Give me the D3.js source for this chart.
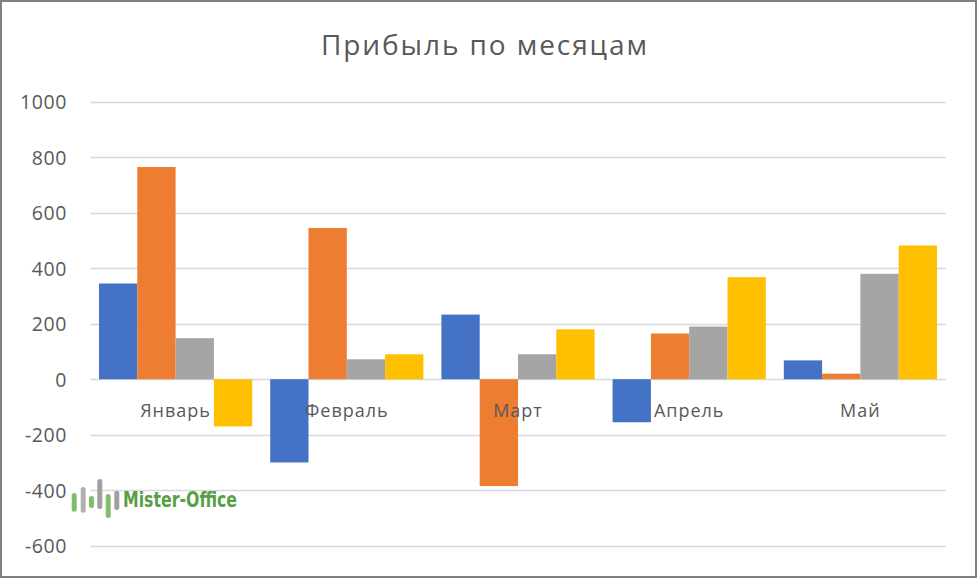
<!DOCTYPE html>
<html><head><meta charset="utf-8">
<script src="https://cdn.jsdelivr.net/npm/d3@7"></script>
<style>html,body{margin:0;padding:0;background:#fff;}svg{display:block;}</style>
</head><body>
<script>
const categories = ["Январь","Февраль","Март","Апрель","Май"];
const seriesNames = ["Ряд1","Ряд2","Ряд3","Ряд4"];
const series1 = [345, -300, 233, -155, 68];
const series2 = [765, 545, -385, 165, 20];
const series3 = [148, 72, 90, 190, 380];
const series4 = [-170, 90, 180, 368, 482];
const yTicks = [-600, -400, -200, 0, 200, 400, 600, 800, 1000];
const colors = ["#4472C4", "#ED7D31", "#A5A5A5", "#FFC000"];
const title = "Прибыль по месяцам";

const W = 977, H = 578;
const font = "'Open Sans', 'Segoe UI', sans-serif";
const svg = d3.select("body").append("svg").attr("width", W).attr("height", H);

svg.append("rect").attr("x",1).attr("y",1).attr("width",W-2).attr("height",H-2)
  .attr("fill","#fff").attr("stroke","#808080").attr("stroke-width",2);

const x = d3.scaleBand().domain(categories).range([90, 946]).paddingInner(0).paddingOuter(0);
const xs = d3.scaleBand().domain(seriesNames).range([0, x.bandwidth()]).paddingInner(0).paddingOuter(0.235);
const y = d3.scaleLinear().domain([-600, 1000]).range([545.7, 101.8]);

// gridlines
svg.append("g").selectAll("line").data(yTicks).join("line")
  .attr("x1", 90).attr("x2", 946)
  .attr("y1", d => Math.round(y(d)) + 0.5).attr("y2", d => Math.round(y(d)) + 0.5)
  .attr("stroke", "#D9D9D9").attr("stroke-width", 1.3);

// y axis labels
const yAxis = d3.axisLeft(y).tickValues(yTicks).tickSize(0).tickPadding(0).tickFormat(d => String(d));
const ga = svg.append("g").attr("transform", "translate(67,0)").call(yAxis);
ga.select(".domain").remove();
ga.selectAll("text").attr("font-family", font).attr("font-size", 19.5).attr("letter-spacing", 0.6)
  .attr("fill", "#595959").attr("dy","0.35em");

// bars
const data = [series1, series2, series3, series4];
const rows = [];
categories.forEach((c, i) => data.forEach((s, j) => rows.push({c, s: seriesNames[j], v: s[i], j})));
svg.append("g").selectAll("rect").data(rows).join("rect")
  .attr("x", d => x(d.c) + xs(d.s))
  .attr("width", xs.bandwidth())
  .attr("y", d => Math.min(y(d.v), y(0)))
  .attr("height", d => Math.abs(y(d.v) - y(0)))
  .attr("fill", d => colors[d.j]);

// category labels
const xAxis = d3.axisBottom(x).tickSize(0).tickPadding(0);
const gx = svg.append("g").attr("transform", `translate(0,${y(0)})`).call(xAxis);
gx.select(".domain").remove();
gx.selectAll("text").attr("font-family", font).attr("font-size", 18).attr("letter-spacing", 1)
  .attr("fill", "#595959").attr("y", 38).attr("dy", 0);

// title
svg.append("text").attr("x", 484).attr("y", 55).attr("text-anchor","middle")
  .attr("font-family", font).attr("font-size", 28).attr("textLength", 326).attr("lengthAdjust","spacing")
  .attr("fill", "#595959").text(title);

// watermark
const wm = svg.append("g");
const logo = [[71.7,493,511.7,"#7fbf6a"],[80.7,487,512.7,"#b0b0b0"],[89,496,508,"#7fbf6a"],[97.3,479,509,"#a0a0a0"],[105.7,494,518,"#7fbf6a"],[114.3,490.7,510,"#a0a0a0"]];
wm.selectAll("rect").data(logo).join("rect")
  .attr("x", d => d[0]).attr("y", d => d[1]).attr("width", 5).attr("height", d => d[2]-d[1])
  .attr("rx", 2.5).attr("fill", d => d[3]);
wm.append("text").attr("x", 123).attr("y", 506.5).attr("textLength", 114).attr("lengthAdjust","spacingAndGlyphs")
  .attr("font-family", "'Liberation Sans Narrow', 'DejaVu Sans Condensed', sans-serif").attr("font-weight","bold")
  .attr("font-size", 22).attr("fill", "#5a9e47").text("Mister-Office");
</script>
</body></html>
